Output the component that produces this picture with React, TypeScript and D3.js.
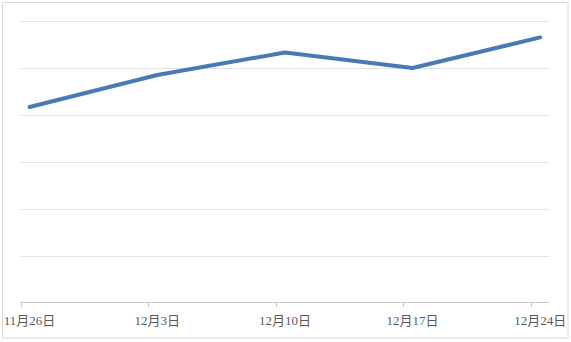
import React from "react";
import * as d3 from "d3";

const dates = ["2023-11-26", "2023-12-03", "2023-12-10", "2023-12-17", "2023-12-24"];
const labels = ["11月26日", "12月3日", "12月10日", "12月17日", "12月24日"];
const values = [41.6, 48.4, 53.2, 49.9, 56.4];
const yTicks = [0, 10, 20, 30, 40, 50, 60];

const W = 571;
const H = 342;

export default function App() {
  const parse = d3.utcParse("%Y-%m-%d");
  const start = parse(dates[0])!;
  const end = d3.utcDay.offset(parse(dates[dates.length - 1])!, 1);
  const x = d3.scaleUtc().domain([start, end]).range([20.5, 549.3]);
  const y = d3.scaleLinear().domain([0, 60]).range([302.5, 20.5]);
  const mid = (s: string) => d3.utcHour.offset(parse(s)!, 12);
  const line = d3
    .line<number>()
    .x((_, i) => x(mid(dates[i])))
    .y((v) => y(v));

  return (
    <svg width={W} height={H} style={{ position: "absolute", left: 0, top: 0 }}>
      <rect x={0} y={0} width={W} height={H} fill="#fff" />
      <rect x={2.5} y={2.5} width={565.5} height={335.5} fill="none" stroke="#d9d9d9" strokeWidth={1} />
      {yTicks.slice(1).map((t) => (
        <line key={t} x1={20.5} x2={549.3} y1={Math.round(y(t)) + 0.5} y2={Math.round(y(t)) + 0.5} stroke="#e3e3e3" strokeWidth={1} />
      ))}
      <line x1={20.5} x2={549.3} y1={302.5} y2={302.5} stroke="#c8c8c8" strokeWidth={1} />
      {dates.map((d) => {
        const xx = Math.round(x(parse(d)!)) + 0.5;
        return <line key={d} x1={xx} x2={xx} y1={302.5} y2={307} stroke="#c8c8c8" strokeWidth={1} />;
      })}
      {dates.map((d, i) => (
        <text
          key={d}
          x={x(mid(d))}
          y={325}
          textAnchor="middle"
          fontSize={13}
          fill="#595959"
          fontFamily="'Liberation Serif', 'Times New Roman', 'Noto Sans CJK SC', serif"
        >
          {labels[i]}
        </text>
      ))}
      <path d={line(values) || ""} fill="none" stroke="#4a7ab4" strokeWidth={4} strokeLinejoin="round" strokeLinecap="round" />
    </svg>
  );
}
